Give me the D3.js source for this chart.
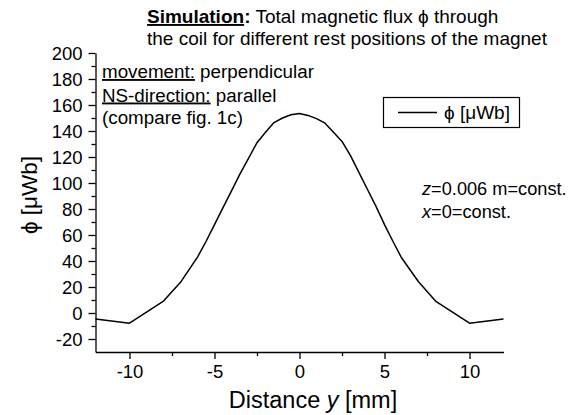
<!DOCTYPE html>
<html>
<head>
<meta charset="utf-8">
<script src="https://cdn.jsdelivr.net/npm/d3@7"></script>
<style>
  html, body { margin: 0; padding: 0; background: #fff; }
  svg { display: block; }
  text { font-family: "Liberation Sans", Arial, Helvetica, sans-serif; fill: #000; }
</style>
</head>
<body>
<svg id="chart" width="581" height="415"></svg>
<script>
// Rest position of the magnet along y (mm)
const distance = [-12, -10, -8, -7, -6, -5.5, -5, -4.5, -4, -3.5, -3, -2.5, -2, -1.5, -1, -0.5,
                  0, 0.5, 1, 1.5, 2, 2.5, 3, 3.5, 4, 4.5, 5, 5.5, 6, 7, 8, 10, 12];
// Total magnetic flux through the coil (µWb)
const flux = [-4.7, -7.8, 9.2, 23.6, 43, 55, 68, 81, 94, 107, 119, 131, 139, 146.5, 150, 152.5,
              153.5, 152, 149.5, 146, 139, 132, 121, 108, 95, 82, 68, 55, 42.5, 24, 9.2, -7.8, -4.6];

const xMajorTicks = [-10, -5, 0, 5, 10];
const xMinorTicks = [-7.5, -2.5, 2.5, 7.5];
const yMajorTicks = [-20, 0, 20, 40, 60, 80, 100, 120, 140, 160, 180, 200];
const yMinorTicks = [-10, 10, 30, 50, 70, 90, 110, 130, 150, 170, 190];

const svg = d3.select("#chart");

const x = d3.scaleLinear().domain([-12, 12]).range([95.5, 503.5]);
const y = d3.scaleLinear().domain([-30, 200]).range([352, 53]);

// Origin-style labels use a plain hyphen for negatives
const fmt = d => (d < 0 ? "-" + Math.abs(d) : String(d));

// x axis: major ticks with labels, then unlabeled minor ticks
const gx = svg.append("g").attr("transform", `translate(0,${y(-30)})`);
const gxMajor = gx.append("g").call(d3.axisBottom(x).tickValues(xMajorTicks).tickSize(7)
  .tickSizeOuter(0).tickFormat(fmt));
gx.append("g").call(d3.axisBottom(x).tickValues(xMinorTicks).tickSize(4).tickSizeOuter(0)
  .tickFormat(() => "")).select(".domain").remove();

// y axis
const gy = svg.append("g").attr("transform", `translate(${x(-12)},0)`);
const gyMajor = gy.append("g").call(d3.axisLeft(y).tickValues(yMajorTicks).tickSize(7)
  .tickSizeOuter(0).tickFormat(fmt));
gy.append("g").call(d3.axisLeft(y).tickValues(yMinorTicks).tickSize(4).tickSizeOuter(0)
  .tickFormat(() => "")).select(".domain").remove();

svg.selectAll(".domain, .tick line").attr("stroke", "#000").attr("stroke-width", 1.3);
gxMajor.selectAll(".tick text").attr("font-size", 18.5).attr("dy", null).attr("y", 26)
  .attr("font-family", '"Liberation Sans", Arial, sans-serif');
gyMajor.selectAll(".tick text").attr("font-size", 18.5).attr("x", -13).attr("dy", "0.36em")
  .attr("font-family", '"Liberation Sans", Arial, sans-serif');

// flux curve
const line = d3.line().x((d, i) => x(distance[i])).y(d => y(d));
svg.append("path")
  .datum(flux)
  .attr("d", line)
  .attr("fill", "none")
  .attr("stroke", "#000")
  .attr("stroke-width", 1.5)
  .attr("stroke-linejoin", "round");

// axis titles
const xt = svg.append("text").attr("x", 313).attr("y", 408).attr("text-anchor", "middle").attr("font-size", 23.5);
xt.append("tspan").text("Distance ");
xt.append("tspan").attr("font-style", "italic").text("y");
xt.append("tspan").text(" [mm]");

svg.append("text")
  .attr("transform", "translate(37,195) rotate(-90)")
  .attr("text-anchor", "middle")
  .attr("font-size", 22.5)
  .text("\u03D5 [\u03BCWb]");

// title
const t1 = svg.append("text").attr("x", 147).attr("y", 23).attr("font-size", 19);
t1.append("tspan").attr("font-weight", "bold").attr("text-decoration", "underline").text("Simulation");
t1.append("tspan").attr("font-weight", "bold").text(":");
t1.append("tspan").text(" Total magnetic flux \u03D5 through");
svg.append("text").attr("x", 147).attr("y", 45).attr("font-size", 19)
  .text("the coil for different rest positions of the magnet");

// configuration notes
const n1 = svg.append("text").attr("x", 102).attr("y", 78).attr("font-size", 18.8);
n1.append("tspan").attr("text-decoration", "underline").text("movement:");
n1.append("tspan").text(" perpendicular");
const n2 = svg.append("text").attr("x", 102).attr("y", 101.5).attr("font-size", 18.8);
n2.append("tspan").attr("text-decoration", "underline").text("NS-direction:");
n2.append("tspan").text(" parallel");
svg.append("text").attr("x", 102).attr("y", 124).attr("font-size", 18.8).text("(compare fig. 1c)");

const c1 = svg.append("text").attr("x", 422).attr("y", 195).attr("font-size", 18.2);
c1.append("tspan").attr("font-style", "italic").text("z");
c1.append("tspan").text("=0.006 m=const.");
const c2 = svg.append("text").attr("x", 422).attr("y", 218).attr("font-size", 18.2);
c2.append("tspan").attr("font-style", "italic").text("x");
c2.append("tspan").text("=0=const.");

// legend
const lg = svg.append("g");
lg.append("rect").attr("x", 383.5).attr("y", 97.5).attr("width", 136).attr("height", 30)
  .attr("fill", "#fff").attr("stroke", "#000").attr("stroke-width", 1.2);
lg.append("line").attr("x1", 398).attr("x2", 437).attr("y1", 112.5).attr("y2", 112.5)
  .attr("stroke", "#000").attr("stroke-width", 1.5);
lg.append("text").attr("x", 444).attr("y", 119).attr("font-size", 19).text("\u03D5 [\u03BCWb]");
</script>
</body>
</html>
